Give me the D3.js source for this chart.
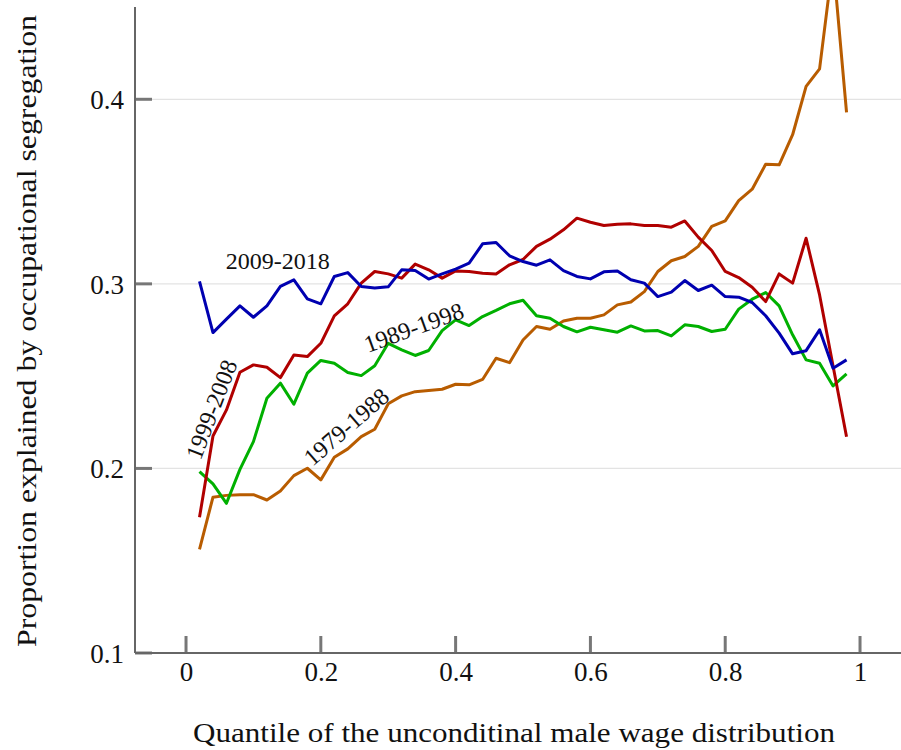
<!DOCTYPE html>
<html><head><meta charset="utf-8">
<script src="https://cdn.jsdelivr.net/npm/d3@7"></script>
<style>
html,body{margin:0;padding:0;background:#fff;}
svg{display:block;}
</style></head>
<body>
<svg id="chart" width="901" height="750"></svg>
<script>
const quantiles = d3.range(1, 50).map(i => i * 0.02);

const s2009 = [0.3014,0.2736,0.2809,0.2881,0.2819,0.2881,0.2986,0.3022,0.2919,0.2892,
  0.3040,0.3061,0.2986,0.2978,0.2984,0.3076,0.3072,0.3026,0.3054,0.3080,
  0.3112,0.3217,0.3224,0.3152,0.3121,0.3101,0.3130,0.3072,0.3040,0.3027,
  0.3065,0.3070,0.3022,0.3004,0.2931,0.2955,0.3018,0.2964,0.2993,0.2931,
  0.2928,0.2899,0.2827,0.2733,0.2621,0.2638,0.2751,0.2543,0.2588];

const s1999 = [0.1735,0.2176,0.2317,0.2521,0.2561,0.2548,0.2492,0.2615,0.2606,0.2678,
  0.2827,0.2892,0.3004,0.3067,0.3054,0.3031,0.3107,0.3076,0.3031,0.3070,
  0.3067,0.3058,0.3053,0.3103,0.3132,0.3203,0.3242,0.3293,0.3356,0.3334,
  0.3316,0.3323,0.3325,0.3316,0.3316,0.3307,0.3341,0.3253,0.3181,0.3067,
  0.3034,0.2982,0.2904,0.3054,0.3004,0.3247,0.2940,0.2555,0.2172];

const s1989 = [0.1983,0.1916,0.1811,0.1995,0.2145,0.2380,0.2462,0.2348,0.2516,0.2585,
  0.2570,0.2520,0.2503,0.2556,0.2678,0.2642,0.2612,0.2639,0.2747,0.2805,
  0.2774,0.2823,0.2856,0.2892,0.2911,0.2827,0.2814,0.2769,0.2740,0.2765,
  0.2751,0.2738,0.2772,0.2745,0.2747,0.2718,0.2778,0.2769,0.2742,0.2754,
  0.2863,0.2917,0.2953,0.2881,0.2724,0.2588,0.2570,0.2447,0.2512];

const s1979 = [0.1562,0.1844,0.1854,0.1858,0.1858,0.1829,0.1878,0.1961,0.2001,0.1938,
  0.2061,0.2106,0.2172,0.2212,0.2350,0.2393,0.2416,0.2422,0.2429,0.2456,
  0.2453,0.2482,0.2597,0.2573,0.2696,0.2769,0.2754,0.2799,0.2814,0.2814,
  0.2832,0.2886,0.2902,0.2958,0.3067,0.3125,0.3148,0.3203,0.3311,0.3341,
  0.3451,0.3513,0.3648,0.3645,0.3808,0.4070,0.4165,0.4750,0.3929];

const seriesNames = ["1979-1988","1989-1998","1999-2008","2009-2018"];
const seriesValues = [s1979, s1989, s1999, s2009];
const seriesColors = ["#b85c00","#00b000","#b00000","#0000b0"];

const xTicks = [0, 0.2, 0.4, 0.6, 0.8, 1];
const xTickLabels = ["0","0.2","0.4","0.6","0.8","1"];
const yTicks = [0.1, 0.2, 0.3, 0.4];
const yTickLabels = ["0.1","0.2","0.3","0.4"];

const xTitle = "Quantile of the unconditinal male wage distribution";
const yTitle = "Proportion explained by occupational segregation";

// label placement (data coords of center) and rotation
const labelPos = [
  {name:"1979-1988", x:0.238, y:0.2225, rot:-41},
  {name:"1989-1998", x:0.338, y:0.2763, rot:-20},
  {name:"1999-2008", x:0.038, y:0.2319, rot:-69},
  {name:"2009-2018", x:0.136, y:0.3124, rot:0}
];

(function(){
const FONT = '"Liberation Serif", "Times New Roman", serif';
const svg = d3.select("#chart");
const pl = 135, pr = 901, pt = 7, pb = 653;
const x = d3.scaleLinear().domain([-0.0757, 1.0608]).range([pl, pr]);
const y = d3.scaleLinear().domain([0.1, 0.45]).range([pb, pt]);

// gridlines
svg.append("g").selectAll("line").data(yTicks.filter(d => d > 0.1)).join("line")
  .attr("x1", pl + 17).attr("x2", pr)
  .attr("y1", d => y(d)).attr("y2", d => y(d))
  .attr("stroke", "#e3e3e3").attr("stroke-width", 1.3);

// y axis
const yAxis = d3.axisLeft(y).tickValues(yTicks).tickFormat((d,i) => yTickLabels[i]).tickSize(0).tickPadding(11);
const gy = svg.append("g").attr("transform", `translate(${pl},0)`).call(yAxis);
gy.attr("font-family", null);
gy.select(".domain").remove();
gy.selectAll("text").style("font-family", FONT).style("font-size", "27px").attr("fill", "#111").attr("dy", "0.34em");
svg.append("g").selectAll("line").data(yTicks).join("line")
  .attr("x1", pl).attr("x2", pl + 17)
  .attr("y1", d => y(d)).attr("y2", d => y(d))
  .attr("stroke", "#777").attr("stroke-width", 3);

// x axis
const xAxis = d3.axisBottom(x).tickValues(xTicks).tickFormat((d,i) => xTickLabels[i]).tickSize(0).tickPadding(9);
const gx = svg.append("g").attr("transform", `translate(0,${pb})`).call(xAxis);
gx.attr("font-family", null);
gx.select(".domain").remove();
gx.selectAll("text").style("font-family", FONT).style("font-size", "27px").attr("fill", "#111");
svg.append("g").selectAll("line").data(xTicks).join("line")
  .attr("x1", d => x(d)).attr("x2", d => x(d))
  .attr("y1", pb - 17).attr("y2", pb)
  .attr("stroke", "#777").attr("stroke-width", 3);

// axis lines
svg.append("line").attr("x1", pl).attr("x2", pl).attr("y1", pt).attr("y2", pb)
  .attr("stroke", "#666").attr("stroke-width", 2);
svg.append("line").attr("x1", pl).attr("x2", pr).attr("y1", pb).attr("y2", pb)
  .attr("stroke", "#666").attr("stroke-width", 2);

// lines
const line = d3.line().x((d,i) => x(quantiles[i])).y(d => y(d));
svg.append("g").selectAll("path").data(seriesValues).join("path")
  .attr("d", d => line(d))
  .attr("fill", "none")
  .attr("stroke", (d,i) => seriesColors[i])
  .attr("stroke-width", 3)
  .attr("stroke-linejoin", "round");

// series labels
svg.append("g").selectAll("text").data(labelPos).join("text")
  .attr("transform", d => `translate(${x(d.x)},${y(d.y)}) rotate(${d.rot})`)
  .attr("text-anchor", "middle").attr("dominant-baseline", "central")
  .style("font-family", FONT).style("font-size", "24px").attr("fill", "#111")
  .text(d => d.name);

// titles
svg.append("text").attr("x", 514).attr("y", 733)
  .attr("text-anchor", "middle").attr("dominant-baseline", "central")
  .style("font-family", FONT).style("font-size", "27px").attr("fill", "#111")
  .attr("textLength", 642).attr("lengthAdjust", "spacingAndGlyphs")
  .text(xTitle);
svg.append("text").attr("transform", "translate(27,331) rotate(-90)")
  .attr("text-anchor", "middle").attr("dominant-baseline", "central")
  .style("font-family", FONT).style("font-size", "27px").attr("fill", "#111")
  .attr("textLength", 632).attr("lengthAdjust", "spacingAndGlyphs")
  .text(yTitle);
})();
</script>
</body></html>
